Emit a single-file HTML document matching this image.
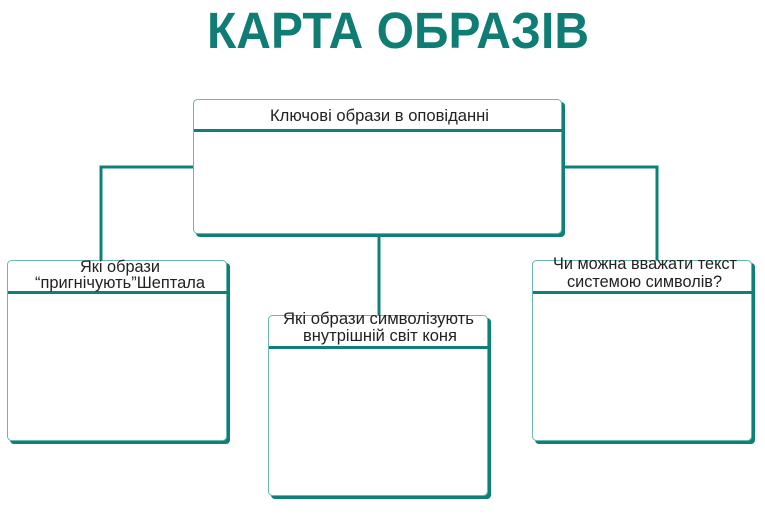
<!DOCTYPE html>
<html><head><meta charset="utf-8"><style>
html,body{margin:0;padding:0;background:#fff;}
svg{display:block}
text{font-family:"Liberation Sans",sans-serif;fill:#222;}
</style></head><body>
<svg width="765" height="529" viewBox="0 0 765 529" xmlns="http://www.w3.org/2000/svg">
<text x="207" y="48" textLength="382" lengthAdjust="spacingAndGlyphs" style="font-size:51px;font-weight:bold;fill:#0f7d74">КАРТА ОБРАЗІВ</text>
<g stroke="#0f8078" stroke-width="3" fill="none">
<polyline points="195,167 101,167 101,262"/>
<polyline points="562,167 657,167 657,262"/>
<line x1="379" y1="234" x2="379" y2="316"/>
</g>
<g>
<rect x="196" y="102" width="369" height="135" rx="4" fill="#0f8078"/>
<rect x="193.5" y="99.5" width="368" height="134" rx="4" fill="#fff" stroke="#6ab6b0"/>
<rect x="194" y="129" width="368" height="3" fill="#0f8078"/>
<text x="270" y="121" textLength="219" lengthAdjust="spacingAndGlyphs" style="font-size:17px">Ключові образи в оповіданні</text>
<rect x="10" y="263" width="220" height="181" rx="4" fill="#0f8078"/>
<rect x="7.5" y="260.5" width="219" height="180" rx="4" fill="#fff" stroke="#6ab6b0"/>
<rect x="8" y="291" width="220" height="3" fill="#0f8078"/>
<text x="80" y="272" textLength="80" lengthAdjust="spacingAndGlyphs" style="font-size:17px">Які образи</text>
<text x="35" y="288" textLength="170" lengthAdjust="spacingAndGlyphs" style="font-size:17px">“пригнічують”Шептала</text>
<rect x="271" y="318" width="220" height="181" rx="4" fill="#0f8078"/>
<rect x="268.5" y="315.5" width="219" height="180" rx="4" fill="#fff" stroke="#6ab6b0"/>
<rect x="269" y="346" width="220" height="3" fill="#0f8078"/>
<text x="283" y="324" textLength="191" lengthAdjust="spacingAndGlyphs" style="font-size:17px">Які образи символізують</text>
<text x="303" y="341" textLength="154" lengthAdjust="spacingAndGlyphs" style="font-size:17px">внутрішній світ коня</text>
<rect x="535" y="263" width="220" height="181" rx="4" fill="#0f8078"/>
<rect x="532.5" y="260.5" width="219" height="180" rx="4" fill="#fff" stroke="#6ab6b0"/>
<rect x="533" y="291" width="220" height="3" fill="#0f8078"/>
<text x="553" y="269" textLength="184" lengthAdjust="spacingAndGlyphs" style="font-size:17px">Чи можна вважати текст</text>
<text x="567" y="287" textLength="155" lengthAdjust="spacingAndGlyphs" style="font-size:17px">системою символів?</text>
</g>
</svg>
</body></html>
